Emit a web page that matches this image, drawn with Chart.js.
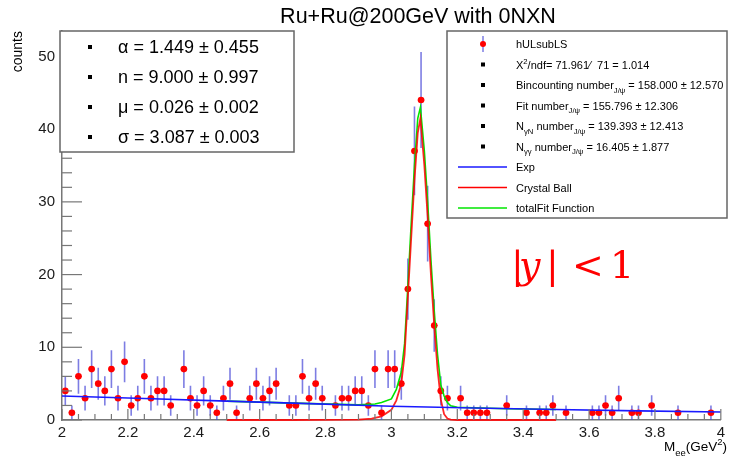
<!DOCTYPE html>
<html>
<head>
<meta charset="utf-8">
<title>Ru+Ru@200GeV with 0NXN</title>
<script src="https://cdn.jsdelivr.net/npm/chart.js@4.4.0/dist/chart.umd.min.js"></script>
<style>
    html, body { margin: 0; padding: 0; background: #fff; }
    #wrap { width: 729px; height: 458px; }
</style>
</head>
<body>
<div id="wrap"><canvas id="massChart" width="729" height="458"></canvas></div>
<script>
// hULsubLS histogram (bin centre, counts, stat error)
const binCenters = [2.01, 2.03, 2.05, 2.07, 2.09, 2.11, 2.13, 2.15, 2.17, 2.19, 2.21, 2.23, 2.25, 2.27, 2.29, 2.31, 2.33,
    2.37, 2.39, 2.41, 2.43, 2.45, 2.47, 2.49, 2.51, 2.53,
    2.57, 2.59, 2.61, 2.63, 2.65,
    2.69, 2.71, 2.73, 2.75, 2.77, 2.79,
    2.83, 2.85, 2.87, 2.89, 2.91, 2.93, 2.95, 2.97, 2.99, 3.01, 3.03, 3.05, 3.07, 3.09, 3.11, 3.13, 3.15, 3.17,
    3.21, 3.23, 3.25, 3.27, 3.29,
    3.35, 3.41, 3.45, 3.47, 3.49, 3.53,
    3.61, 3.63, 3.65, 3.67, 3.69,
    3.73, 3.75, 3.79, 3.87, 3.97];
const binCounts = [4, 1, 6, 3, 7, 5, 4, 7, 3, 8, 2, 3, 6, 3, 4, 4, 2,
    7, 3, 2, 4, 2, 1, 3, 5, 1,
    3, 5, 3, 4, 5,
    2, 2, 6, 3, 5, 3,
    2, 3, 3, 4, 4, 2, 7, 1, 7, 7, 5, 18, 37, 44, 27, 13, 4, 3,
    3, 1, 1, 1, 1,
    2, 1, 1, 1, 2, 1,
    1, 1, 2, 1, 3,
    1, 1, 2, 1, 1];
const binErrors = [2, 1, 2.4, 1.7, 2.6, 2.2, 2, 2.6, 1.7, 2.8, 1.4, 1.7, 2.4, 1.7, 2, 2, 1.4,
    2.6, 1.7, 1.4, 2, 1.4, 1, 1.7, 2.2, 1,
    1.7, 2.2, 1.7, 2, 2.2,
    1.4, 1.4, 2.4, 1.7, 2.2, 1.7,
    1.4, 1.7, 1.7, 2, 2, 1.4, 2.6, 1, 2.6, 2.6, 2.2, 4.2, 6.1, 6.6, 5.2, 3.6, 2, 1.7,
    1.7, 1, 1, 1, 1,
    1.4, 1, 1, 1, 1.4, 1,
    1, 1, 1.4, 1, 1.7,
    1, 1, 1.4, 1, 1];
const binHalfWidth = 0.01;

// fit curves
const expX = [2.0, 2.25, 2.5, 2.75, 3.0, 3.25, 3.5, 3.75, 4.0];
const expY = [3.3, 2.95, 2.6, 2.25, 1.9, 1.65, 1.45, 1.25, 1.1];

const cbX = [2.5, 2.7, 2.9, 2.94, 2.97, 3.0, 3.015, 3.03, 3.04, 3.05, 3.06, 3.07, 3.08, 3.088,
    3.1, 3.11, 3.12, 3.13, 3.14, 3.15, 3.16, 3.17, 3.18, 3.2, 3.35, 3.5];
const cbY = [0, 0, 0.05, 0.2, 0.5, 1.4, 2.7, 5, 9, 17, 25, 33, 39.5, 41.5,
    35, 28, 20, 13, 7, 2.8, 0.8, 0.2, 0.05, 0, 0, 0];

const totalX = [2.5, 2.7, 2.9, 2.95, 2.97, 3.0, 3.015, 3.03, 3.04, 3.05, 3.06, 3.07, 3.08, 3.088,
    3.1, 3.11, 3.12, 3.13, 3.14, 3.15, 3.16, 3.17, 3.18, 3.2, 3.35, 3.5];
const totalY = [2.6, 2.32, 2.08, 2.2, 2.4, 2.9, 4.2, 6.6, 10.5, 18.5, 27, 35, 41.5, 43,
    37, 30, 22, 15, 9, 4.8, 3.3, 2.4, 1.95, 1.75, 1.55, 1.45];

// axis ticks
const xTicks = [2, 2.2, 2.4, 2.6, 2.8, 3, 3.2, 3.4, 3.6, 3.8, 4];
const yTicks = [0, 10, 20, 30, 40, 50];

const SANS = '"Liberation Sans", Arial, sans-serif';
const SERIF = '"DejaVu Serif", "Liberation Serif", serif';

function toPoints(xs, ys) {
    return xs.map((x, i) => ({ x: x, y: ys[i] }));
}

// text with sub/superscripts: parts = [[text, 'n'|'sub'|'sup'], ...]
function richWidth(ctx, parts, size) {
    let w = 0;
    parts.forEach(p => {
        ctx.font = (p[1] === 'n' ? size : size * 0.7) + 'px ' + SANS;
        w += ctx.measureText(p[0]).width;
    });
    return w;
}

function drawRich(ctx, parts, x, y, size) {
    parts.forEach(p => {
        let s = size, dy = 0;
        if (p[1] === 'sub') { s = size * 0.7; dy = size * 0.35; }
        if (p[1] === 'sup') { s = size * 0.7; dy = -size * 0.45; }
        ctx.font = s + 'px ' + SANS;
        ctx.fillText(p[0], x, y + dy);
        x += ctx.measureText(p[0]).width;
    });
}

// error bars under the markers
const errorBars = {
    id: 'errorBars',
    beforeDatasetsDraw(chart) {
        const ctx = chart.ctx, xs = chart.scales.x, ys = chart.scales.y;
        const area = chart.chartArea;
        ctx.save();
        ctx.beginPath();
        ctx.rect(area.left, area.top, area.right - area.left, area.bottom - area.top);
        ctx.clip();
        ctx.lineWidth = 1.6;
        ctx.strokeStyle = 'rgba(70, 70, 215, 0.7)';
        binCenters.forEach((c, i) => {
            const px = xs.getPixelForValue(c);
            ctx.beginPath();
            ctx.moveTo(px, ys.getPixelForValue(binCounts[i] - binErrors[i]));
            ctx.lineTo(px, ys.getPixelForValue(binCounts[i] + binErrors[i]));
            ctx.stroke();
        });
        ctx.strokeStyle = 'rgba(255, 0, 0, 0.8)';
        ctx.lineWidth = 1.2;
        binCenters.forEach((c, i) => {
            const py = ys.getPixelForValue(binCounts[i]);
            ctx.beginPath();
            ctx.moveTo(xs.getPixelForValue(c - binHalfWidth), py);
            ctx.lineTo(xs.getPixelForValue(c + binHalfWidth), py);
            ctx.stroke();
        });
        ctx.restore();
    }
};

// ROOT style inward tick marks
const innerTicks = {
    id: 'innerTicks',
    afterDraw(chart) {
        const ctx = chart.ctx, xs = chart.scales.x, ys = chart.scales.y;
        const area = chart.chartArea;
        ctx.save();
        ctx.strokeStyle = '#777';
        ctx.lineWidth = 1.2;
        for (let i = 0; i <= 40; i++) {
            const px = xs.getPixelForValue(2 + i * 0.05);
            const len = (i % 4 === 0) ? 11 : 6;
            ctx.beginPath();
            ctx.moveTo(px, area.bottom);
            ctx.lineTo(px, area.bottom - len);
            ctx.stroke();
        }
        for (let v = 0; v <= 52; v += 2) {
            const py = ys.getPixelForValue(v);
            const len = (v % 10 === 0) ? 20 : 10;
            ctx.beginPath();
            ctx.moveTo(area.left, py);
            ctx.lineTo(area.left + len, py);
            ctx.stroke();
        }
        ctx.restore();
    }
};

// title, axis titles, stat boxes and the rapidity note
const annotations = {
    id: 'annotations',
    afterDraw(chart) {
        const ctx = chart.ctx;
        ctx.save();
        ctx.fillStyle = '#000';
        ctx.textBaseline = 'alphabetic';

        // title
        ctx.font = '21.5px ' + SANS;
        ctx.textAlign = 'center';
        ctx.fillText('Ru+Ru@200GeV with 0NXN', 418, 23);

        // y axis title
        ctx.save();
        ctx.translate(22, 31);
        ctx.rotate(-Math.PI / 2);
        ctx.textAlign = 'right';
        ctx.font = '14px ' + SANS;
        ctx.fillText('counts', 0, 0);
        ctx.restore();

        // x axis title
        ctx.textAlign = 'left';
        const xTitle = [['M', 'n'], ['ee', 'sub'], ['(GeV', 'n'], ['2', 'sup'], [')', 'n']];
        drawRich(ctx, xTitle, 727 - richWidth(ctx, xTitle, 13.5), 451, 13.5);

        // crystal ball parameter box
        ctx.fillStyle = '#fff';
        ctx.fillRect(60, 31, 234, 121);
        ctx.strokeStyle = '#666';
        ctx.lineWidth = 1.5;
        ctx.strokeRect(60, 31, 234, 121);
        const params = ['\u03b1 = 1.449 \u00b1 0.455', 'n = 9.000 \u00b1 0.997',
            '\u03bc = 0.026 \u00b1 0.002', '\u03c3 = 3.087 \u00b1 0.003'];
        ctx.fillStyle = '#000';
        ctx.font = '18px ' + SANS;
        params.forEach((t, i) => {
            const y = 47 + i * 30;
            ctx.fillRect(88, y - 2, 4, 4);
            ctx.fillText(t, 118, y + 6);
        });

        // legend box
        ctx.fillStyle = '#fff';
        ctx.fillRect(447, 31, 280, 187);
        ctx.strokeRect(447, 31, 280, 187);
        const rows = [
            { kind: 'hist', parts: [['hULsubLS', 'n']] },
            { kind: 'box', parts: [['X', 'n'], ['2', 'sup'], ['/ndf= 71.961\u2044  71 = 1.014', 'n']] },
            { kind: 'box', parts: [['Bincounting number', 'n'], ['J/\u03c8', 'sub'], [' = 158.000 \u00b1 12.570', 'n']] },
            { kind: 'box', parts: [['Fit number', 'n'], ['J/\u03c8', 'sub'], [' = 155.796 \u00b1 12.306', 'n']] },
            { kind: 'box', parts: [['N', 'n'], ['\u03b3N', 'sub'], [' number', 'n'], ['J/\u03c8', 'sub'], [' = 139.393 \u00b1 12.413', 'n']] },
            { kind: 'box', parts: [['N', 'n'], ['\u03b3\u03b3', 'sub'], [' number', 'n'], ['J/\u03c8', 'sub'], [' = 16.405 \u00b1 1.877', 'n']] },
            { kind: 'line', color: '#1a1aff', parts: [['Exp', 'n']] },
            { kind: 'line', color: '#ff0000', parts: [['Crystal Ball', 'n']] },
            { kind: 'line', color: '#00e600', parts: [['totalFit Function', 'n']] }
        ];
        rows.forEach((r, i) => {
            const y = 44 + i * 20.5;
            if (r.kind === 'hist') {
                ctx.strokeStyle = 'rgba(70, 70, 215, 0.7)';
                ctx.lineWidth = 1.5;
                ctx.beginPath();
                ctx.moveTo(483, y - 8);
                ctx.lineTo(483, y + 8);
                ctx.stroke();
                ctx.fillStyle = '#ff0000';
                ctx.beginPath();
                ctx.arc(483, y, 3, 0, Math.PI * 2);
                ctx.fill();
            } else if (r.kind === 'box') {
                ctx.fillStyle = '#000';
                ctx.fillRect(481, y - 2, 4, 4);
            } else {
                ctx.strokeStyle = r.color;
                ctx.lineWidth = 1.5;
                ctx.beginPath();
                ctx.moveTo(458, y);
                ctx.lineTo(507, y);
                ctx.stroke();
            }
            ctx.fillStyle = '#000';
            drawRich(ctx, r.parts, 516, y + 4, 11);
        });

        // |y| < 1
        ctx.fillStyle = '#ff0000';
        ctx.font = '38px ' + SERIF;
        ctx.fillText('|', 511, 278);
        ctx.fillText('|', 546, 278);
        ctx.fillText('<', 572, 278);
        ctx.fillText('1', 610, 278);
        ctx.font = 'italic 38px ' + SERIF;
        ctx.fillText('y', 519, 278);

        ctx.restore();
    }
};

document.addEventListener('DOMContentLoaded', function() {
    const ctx = document.getElementById('massChart').getContext('2d');
    new Chart(ctx, {
        type: 'scatter',
        data: {
            datasets: [{
                label: 'Exp',
                data: toPoints(expX, expY),
                showLine: true,
                borderColor: '#1a1aff',
                borderWidth: 1.6,
                pointRadius: 0,
                order: 0
            }, {
                label: 'Crystal Ball',
                data: toPoints(cbX, cbY),
                showLine: true,
                borderColor: 'rgba(255, 0, 0, 0.85)',
                borderWidth: 1.8,
                pointRadius: 0,
                clip: 4,
                order: 1
            }, {
                label: 'totalFit Function',
                data: toPoints(totalX, totalY),
                showLine: true,
                borderColor: '#00e600',
                borderWidth: 1.6,
                pointRadius: 0,
                order: 2
            }, {
                label: 'hULsubLS',
                data: toPoints(binCenters, binCounts),
                showLine: false,
                pointRadius: 3.3,
                pointBackgroundColor: '#ff0000',
                pointBorderWidth: 0,
                order: 3
            }]
        },
        options: {
            responsive: false,
            animation: false,
            devicePixelRatio: 1,
            layout: { padding: { top: 31, right: 4, left: 0, bottom: 0 } },
            plugins: {
                legend: { display: false },
                tooltip: { enabled: false }
            },
            scales: {
                x: {
                    type: 'linear',
                    min: 2,
                    max: 4,
                    afterBuildTicks: function(scale) {
                        scale.ticks = xTicks.map(v => ({ value: v }));
                    },
                    afterFit: function(scale) { scale.height = 38; },
                    grid: { display: false, drawTicks: false },
                    border: { display: true, color: '#777', width: 1.5 },
                    ticks: {
                        autoSkip: false,
                        maxRotation: 0,
                        padding: 4,
                        color: '#1a1a1a',
                        font: { family: SANS, size: 15 },
                        callback: function(v) { return String(Number(v.toFixed(1))); }
                    }
                },
                y: {
                    type: 'linear',
                    min: 0,
                    max: 53.5,
                    afterBuildTicks: function(scale) {
                        scale.ticks = yTicks.map(v => ({ value: v }));
                    },
                    afterFit: function(scale) { scale.width = 62; },
                    grid: { display: false, drawTicks: false },
                    border: { display: true, color: '#777', width: 1.5 },
                    ticks: {
                        padding: 7,
                        color: '#1a1a1a',
                        font: { family: SANS, size: 15 }
                    }
                }
            }
        },
        plugins: [errorBars, innerTicks, annotations]
    });
});
</script>
</body>
</html>
